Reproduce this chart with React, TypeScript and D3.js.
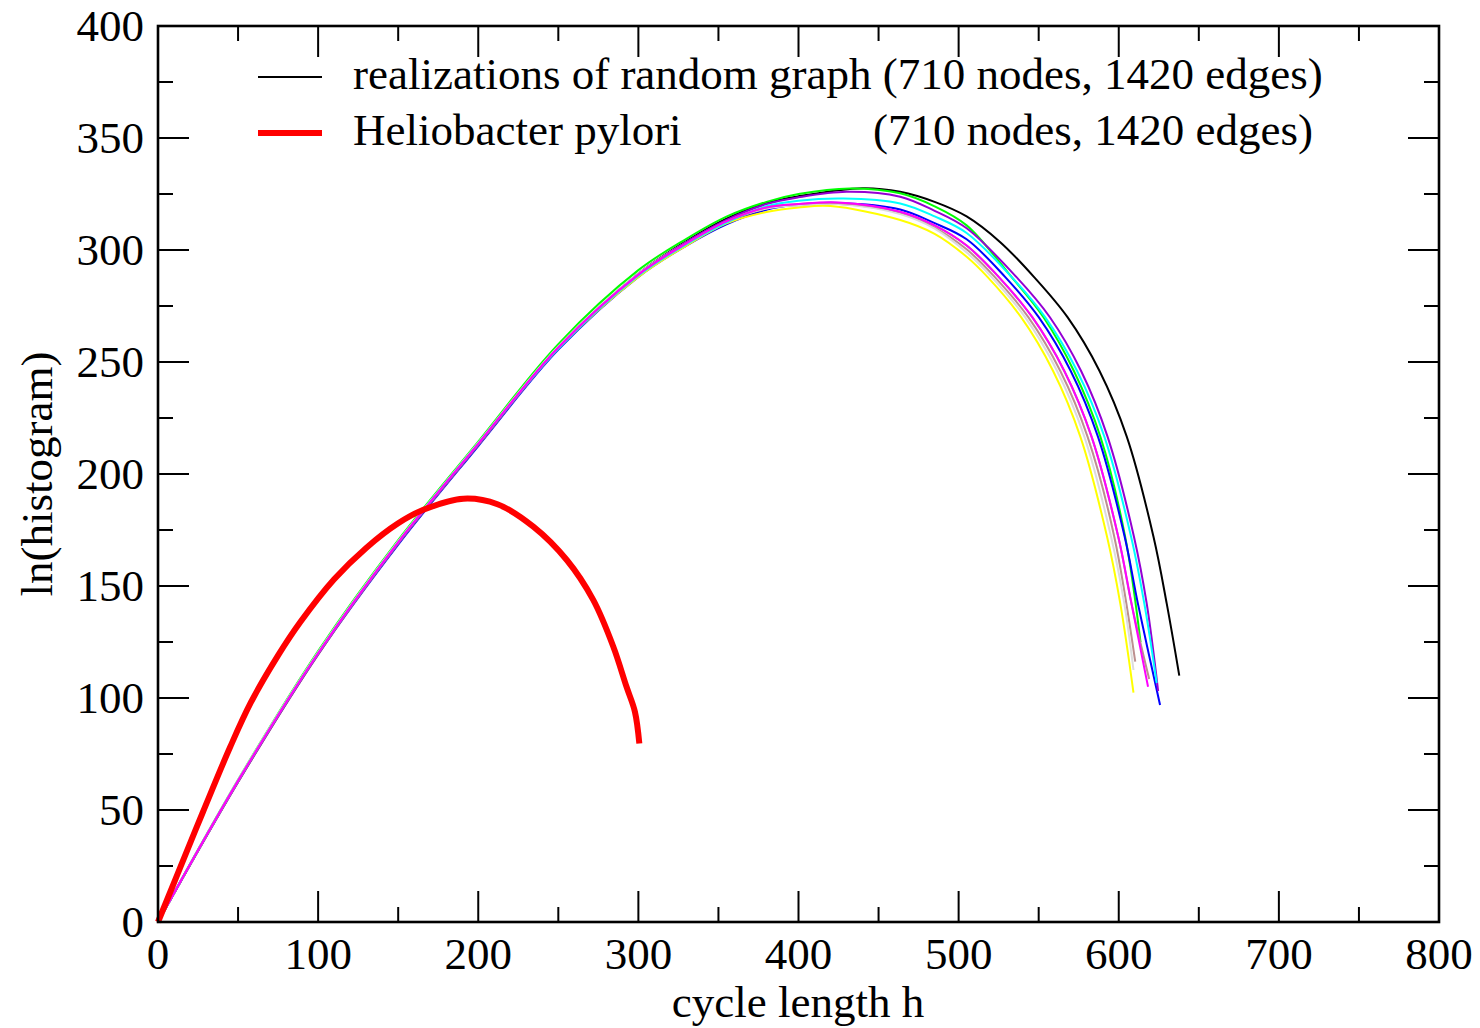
import React from "react";
import * as d3 from "d3";

type P = [number, number];

const xTicks = [0, 100, 200, 300, 400, 500, 600, 700, 800];
const yTicks = [0, 50, 100, 150, 200, 250, 300, 350, 400];

const blackSeries: P[] = [[0,0],[50,63],[100,120],[150,169.5],[200,213.5],[250,256.5],[300,289.5],[330,304],[355,314],[380,321],[400,324],[440,327.6],[463.5,326],[485,321.5],[505,315],[526,303.5],[547,288],[568,270],[588,246],[605,216.7],[621.7,172],[630,142],[637.8,110]];
const greenSeries: P[] = [[0,0],[50,63.5],[100,121],[150,170.5],[200,214.5],[250,258],[300,291],[330,305],[355,314.9],[380,321.5],[400,325],[432,327.5],[463.5,325.3],[485,319.5],[505,311],[533,288],[553,270],[572,246],[588.5,216.7],[604,172],[613.6,125]];
const blueSeries: P[] = [[0,0],[50,62.5],[100,119.5],[150,168.5],[200,212.5],[250,255.5],[300,288],[330,302],[355,311.5],[380,318],[400,320.3],[425,321],[463.5,318.1],[485,312],[505,304.8],[529,288],[550,270],[570,246],[587,216.7],[603.7,172],[612,142],[625.8,96.9]];
const yellowSeries: P[] = [[0,0],[50,62.5],[100,119.5],[150,169],[200,213],[250,256],[300,288],[330,302],[355,311.9],[380,317],[400,319],[420,319.6],[463.5,313.4],[485,307.2],[505,297],[518,288],[539,270],[559,246],[576,216.7],[592.7,172],[601,142],[609.2,102.4]];
const brownSeries: P[] = [[0,0],[50,63],[100,120],[150,169.5],[200,213.5],[250,256.5],[300,289],[330,303],[355,312.5],[380,318.5],[400,320],[425,320.5],[463.5,316.5],[485,310],[505,300.3],[522.5,288],[543.5,270],[563.5,246],[580.5,216.7],[597.2,172],[610.3,116.2]];
const greySeries: P[] = [[0,0],[50,63.5],[100,120.5],[150,170],[200,214],[250,257],[300,289.5],[330,303.5],[355,313],[380,318.5],[400,320],[425,320.5],[463.5,316],[485,309.5],[505,298.9],[520.5,288],[541.5,270],[561.5,246],[578.5,216.7],[595.2,172],[603.5,142],[609.2,112.5]];
const violetSeries: P[] = [[0,0],[50,62.5],[100,119.5],[150,169],[200,213],[250,256],[300,289],[330,303.5],[355,313.4],[380,320.5],[400,323.5],[430,326],[463.5,323.8],[485,317.5],[505,309.7],[536,288],[557,270],[576.5,246],[593,216.7],[609.5,172],[617.5,142],[624.6,103.1]];
const cyanSeries: P[] = [[0,0],[50,63],[100,120],[150,169.5],[200,213.5],[250,256],[300,288.5],[330,302.5],[355,312.2],[380,319.5],[400,322],[428,323],[463.5,320.8],[485,315],[505,307.6],[533,288],[554,270],[574,246],[591,216.7],[607.7,172],[616,142],[623.7,106.7]];
const rosySeries: P[] = [[0,0],[50,63],[100,120],[150,169.5],[200,213.5],[250,256.5],[300,289],[330,303],[355,312.8],[380,319],[400,320.5],[425,321],[463.5,317],[485,311],[505,302],[525,288],[546,270],[566,246],[583,216.7],[599.7,172],[608,142],[619,108.5]];
const magentaSeries: P[] = [[0,0],[50,63],[100,120],[150,169.5],[200,213.5],[250,256.5],[300,289],[330,303],[355,312.8],[380,319],[400,320.5],[425,321.2],[463.5,317.1],[485,311],[505,302],[525,288],[546,270],[566,246],[583,216.7],[599.7,172],[608,142],[618.3,105]];
const pyloriSeries: P[] = [[0,0],[12,21],[28,49],[45,78],[58,98],[75,119],[89,134],[110,153],[130,167],[150,178],[165.7,184],[190.7,189],[212,186.5],[234.4,176.5],[255.3,161.6],[271.8,143.8],[284.3,123],[292.6,105],[297.8,94],[300.6,79.7]];

const randomSeries: { color: string; data: P[] }[] = [
  { color: "#000000", data: blackSeries },
  { color: "#00ff00", data: greenSeries },
  { color: "#0000ff", data: blueSeries },
  { color: "#ffff00", data: yellowSeries },
  { color: "#bc8f8f", data: brownSeries },
  { color: "#dcdcdc", data: greySeries },
  { color: "#9400d3", data: violetSeries },
  { color: "#00ffff", data: cyanSeries },
  { color: "#bc8f8f", data: rosySeries },
  { color: "#ff00ff", data: magentaSeries },
];

const legendLabels = [
  "realizations of random graph (710 nodes, 1420 edges)",
  "Heliobacter pylori",
  "(710 nodes, 1420 edges)",
];

const FONT = "'Liberation Serif', 'Times New Roman', serif";

export default function App() {
  const L = 158, R = 1439, T = 26, B = 922;
  const x = d3.scaleLinear().domain([0, 800]).range([L, R]);
  const y = d3.scaleLinear().domain([0, 400]).range([B, T]);
  const line = d3
    .line<P>()
    .x((d) => x(d[0]))
    .y((d) => y(d[1]))
    .curve(d3.curveCatmullRom.alpha(0.5));

  const xMinor = d3.range(50, 800, 100);
  const yMinor = d3.range(25, 400, 50);
  const major = 31, minor = 15;
  const fs = 45;

  return (
    <svg
      width={1480}
      height={1028}
      style={{ position: "absolute", left: 0, top: 0, background: "#fff" }}
      fontFamily={FONT}
    >
      <rect x={0} y={0} width={1480} height={1028} fill="#fff" />
      {randomSeries.map((s, i) => (
        <path key={i} d={line(s.data) || ""} fill="none" stroke={s.color} strokeWidth={2} />
      ))}
      <path d={line(pyloriSeries) || ""} fill="none" stroke="#ff0000" strokeWidth={6} />

      <g stroke="#000" strokeWidth={2}>
        {xTicks.map((t) => (
          <g key={"xt" + t}>
            <line x1={x(t)} x2={x(t)} y1={B} y2={B - major} />
            <line x1={x(t)} x2={x(t)} y1={T} y2={T + major} />
          </g>
        ))}
        {xMinor.map((t) => (
          <g key={"xm" + t}>
            <line x1={x(t)} x2={x(t)} y1={B} y2={B - minor} />
            <line x1={x(t)} x2={x(t)} y1={T} y2={T + minor} />
          </g>
        ))}
        {yTicks.map((t) => (
          <g key={"yt" + t}>
            <line x1={L} x2={L + major} y1={y(t)} y2={y(t)} />
            <line x1={R} x2={R - major} y1={y(t)} y2={y(t)} />
          </g>
        ))}
        {yMinor.map((t) => (
          <g key={"ym" + t}>
            <line x1={L} x2={L + minor} y1={y(t)} y2={y(t)} />
            <line x1={R} x2={R - minor} y1={y(t)} y2={y(t)} />
          </g>
        ))}
      </g>
      <rect x={L} y={T} width={R - L} height={B - T} fill="none" stroke="#000" strokeWidth={2.6} />

      <g fontSize={fs} fill="#000">
        {xTicks.map((t) => (
          <text key={"xl" + t} x={x(t)} y={969} textAnchor="middle">
            {t}
          </text>
        ))}
        {yTicks.map((t) => (
          <text key={"yl" + t} x={144} y={y(t) + 15} textAnchor="end">
            {t}
          </text>
        ))}
      </g>

      <text x={798} y={1017} textAnchor="middle" fontSize={fs}>
        cycle length h
      </text>
      <text
        transform={`translate(52,${474}) rotate(-90)`}
        textAnchor="middle"
        fontSize={fs}
      >
        ln(histogram)
      </text>

      <line x1={258} x2={322} y1={77} y2={77} stroke="#000" strokeWidth={2} />
      <line x1={258} x2={322} y1={133} y2={133} stroke="#ff0000" strokeWidth={6} />
      <g fontSize={fs}>
        <text x={353} y={89}>{legendLabels[0]}</text>
        <text x={353} y={145}>{legendLabels[1]}</text>
        <text x={873} y={145}>{legendLabels[2]}</text>
      </g>
    </svg>
  );
}
